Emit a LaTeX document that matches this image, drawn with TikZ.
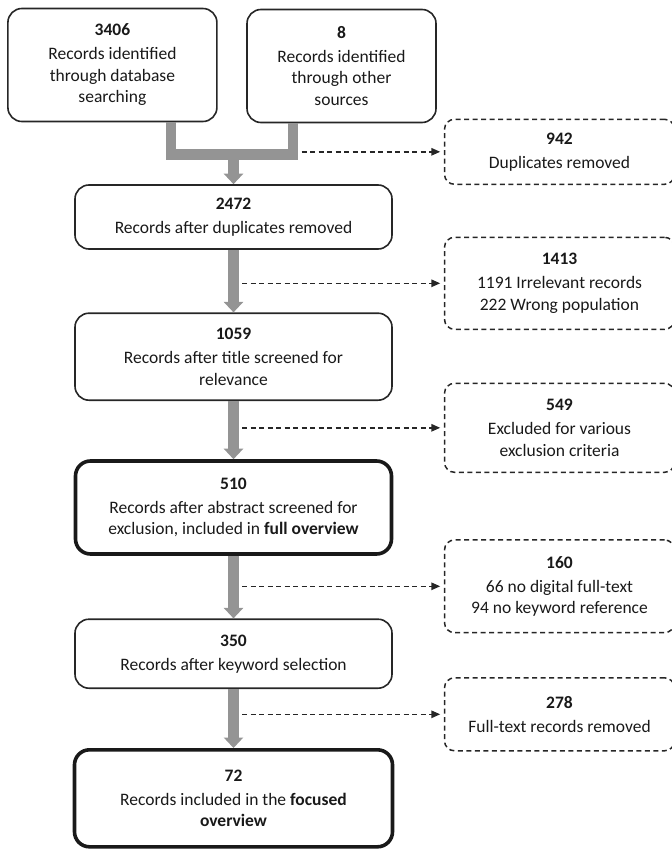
\documentclass[tikz,border=0pt]{standalone}
\usepackage{fontspec}
\setmainfont{Carlito}
\usetikzlibrary{arrows.meta}
\definecolor{flowgray}{RGB}{148,148,148}

\begin{document}
\begin{tikzpicture}[x=1pt, y=-1pt,
  every node/.style={font=\fontsize{17.5}{21.5}\selectfont, text=black!90, align=center, inner sep=0pt, anchor=center},
  recbox/.style={draw=black!85, line width=1.6pt, rounded corners=14pt},
  keybox/.style={draw=black!90, line width=3.6pt, rounded corners=15pt},
  outbox/.style={draw=black!85, line width=1.5pt, dash pattern=on 5pt off 3.5pt, rounded corners=10pt, minimum width=230pt},
  flow/.style={draw=flowgray, line width=10.5pt},
  flowarrow/.style={flow, -{Triangle[width=19pt,length=10.5pt]}},
  skip/.style={draw=black!85, line width=1.5pt, dash pattern=on 5pt off 3.5pt, shorten >=3.5pt, -{Triangle[width=7.5pt,length=9pt]}}
]
\useasboundingbox (0,0) rectangle (671,850);

% identification
\node[recbox, minimum width=209pt, minimum height=113pt] (db) at (112.4,65) {\textbf{3406}\\[2.5pt]Records identified\\through database\\searching};
\node[recbox, minimum width=189pt, minimum height=113pt] (other) at (341.5,66) {\textbf{8}\\[2.5pt]Records identified\\through other\\sources};

% main column
\node[recbox, minimum width=317pt, minimum height=64pt] (nodup) at (233.5,217) {\textbf{2472}\\[2.5pt]Records after duplicates removed};
\node[recbox, minimum width=317pt, minimum height=87pt] (title) at (233.5,356.7) {\textbf{1059}\\[2.5pt]Records after title screened for\\relevance};
\node[keybox, minimum width=316pt, minimum height=93pt] (full) at (233.5,507.5) {\textbf{510}\\[2.5pt]Records after abstract screened for\\exclusion, included in \textbf{full overview}};
\node[recbox, minimum width=317pt, minimum height=69pt] (keyword) at (233.5,653.7) {\textbf{350}\\[2.5pt]Records after keyword selection};
\node[keybox, minimum width=318pt, minimum height=97pt] (focus) at (233.5,798.3) {\textbf{72}\\[2.5pt]Records included in the \textbf{focused}\\\textbf{overview}};

% removed records
\node[outbox, minimum height=65pt] (dup) at (559.5,151.8) {\textbf{942}\\[2.5pt]Duplicates removed};
\node[outbox, minimum height=92pt] (irr) at (559.5,283.3) {\textbf{1413}\\[2.5pt]1191 Irrelevant records\\222 Wrong population};
\node[outbox, minimum height=89pt] (excl) at (559.5,427.8) {\textbf{549}\\[2.5pt]Excluded for various\\exclusion criteria};
\node[outbox, minimum height=92.7pt] (notext) at (559.5,586.3) {\textbf{160}\\[2.5pt]66 no digital full-text\\94 no keyword reference};
\node[outbox, minimum height=73pt] (fulltext) at (559.5,714.3) {\textbf{278}\\[2.5pt]Full-text records removed};

% gray flow
\coordinate (leftfoot) at (171,154.5);
\coordinate (rightfoot) at (293,154.5);
\coordinate (merge) at (233.5,154.5);
\draw[flow, line join=miter] (db.south -| leftfoot) -- (leftfoot) -- (rightfoot) -- (other.south -| rightfoot);
\draw[flowarrow] (merge) -- (nodup.north);
\draw[flowarrow] (nodup.south) -- (title.north);
\draw[flowarrow] (title.south) -- (full.north);
\draw[flowarrow] (full.south) -- (keyword.north);
\draw[flowarrow] (keyword.south) -- (focus.north);

% dashed exits
\coordinate (tap) at (242,0);
\coordinate (mergetap) at (301.7,0);
\draw[skip] (mergetap |- dup.west) -- (dup.west);
\draw[skip] (tap |- irr.west) -- (irr.west);
\draw[skip] (tap |- excl.west) -- (excl.west);
\draw[skip] (tap |- notext.west) -- (notext.west);
\draw[skip] (tap |- fulltext.west) -- (fulltext.west);
\end{tikzpicture}
\end{document}
